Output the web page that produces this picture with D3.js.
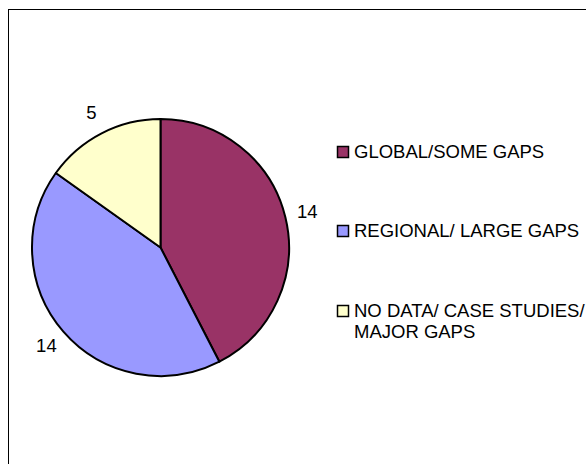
<!DOCTYPE html>
<html>
<head>
<meta charset="utf-8">
<script src="https://cdn.jsdelivr.net/npm/d3@7"></script>
<style>
html,body{margin:0;padding:0;background:#fff;overflow:hidden;}
svg{display:block;}
text{font-family:"Liberation Sans",Arial,sans-serif;fill:#000;}
</style>
</head>
<body>
<svg id="chart" width="586" height="464"></svg>
<script>
const categories = ["GLOBAL/SOME GAPS", "REGIONAL/ LARGE GAPS", "NO DATA/ CASE STUDIES/ MAJOR GAPS"];
const legendLines = [["GLOBAL/SOME GAPS"], ["REGIONAL/ LARGE GAPS"], ["NO DATA/ CASE STUDIES/", "MAJOR GAPS"]];
const values = [14, 14, 5];
const colors = ["#993366", "#9999FF", "#FFFFCC"];

const svg = d3.select("#chart");
svg.append("rect").attr("x", 0).attr("y", 0).attr("width", 586).attr("height", 464).attr("fill", "#fff");
svg.append("rect").attr("x", 8.5).attr("y", 9.5).attr("width", 640).attr("height", 520)
  .attr("fill", "#fff").attr("stroke", "#000").attr("stroke-width", 1);

const cx = 160.5, cy = 247.5, r = 128.5;
const pie = d3.pie().sort(null).value(d => d)(values);
const arc = d3.arc().innerRadius(0).outerRadius(r);
const labelArc = d3.arc().innerRadius(151).outerRadius(151);

const g = svg.append("g").attr("transform", `translate(${cx},${cy})`);
g.selectAll("path.slice").data(pie).enter().append("path")
  .attr("class", "slice")
  .attr("d", arc)
  .attr("fill", (d, i) => colors[i])
  .attr("stroke", "#000").attr("stroke-width", 2).attr("stroke-linejoin", "round");

g.selectAll("text.lbl").data(pie).enter().append("text")
  .attr("class", "lbl")
  .attr("x", d => labelArc.centroid(d)[0])
  .attr("y", d => labelArc.centroid(d)[1] + 6)
  .attr("text-anchor", "middle")
  .attr("font-size", 18.5)
  .text(d => d.data);

const legend = svg.append("g");
const baseY = [158, 237, 317];
legendLines.forEach((lines, i) => {
  legend.append("rect")
    .attr("x", 337.5).attr("y", baseY[i] - 11.5)
    .attr("width", 11).attr("height", 11)
    .attr("fill", colors[i]).attr("stroke", "#000").attr("stroke-width", 1.5);
  const t = legend.append("text").attr("x", 354).attr("y", baseY[i]).attr("font-size", 18.5);
  lines.forEach((ln, j) => {
    t.append("tspan").attr("x", 354).attr("y", baseY[i] + j * 21).text(ln);
  });
});
</script>
</body>
</html>
